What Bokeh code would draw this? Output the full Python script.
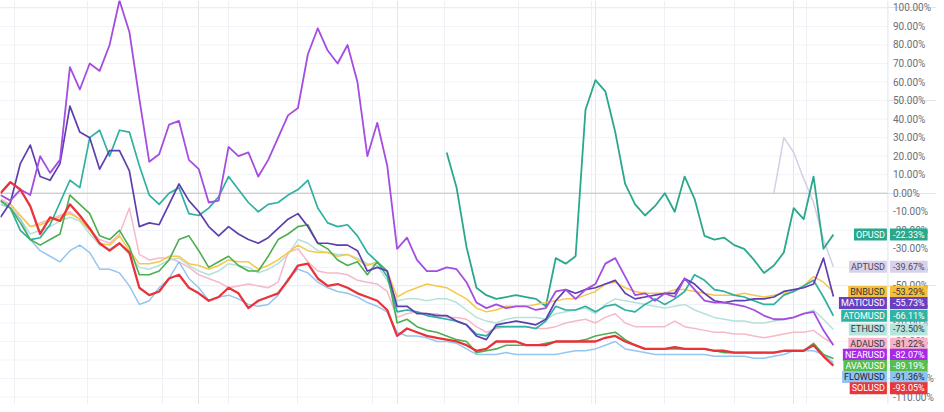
from bokeh.plotting import figure
from bokeh.models import Range1d, FixedTicker, Grid, Span, Label
from bokeh.core.properties import value
from bokeh.embed import file_html
from bokeh.resources import INLINE

# sample index (approx. every 4 days, Dec 2021 -> Nov 2022)
t = list(range(0, 850, 10))

# month boundaries (vertical grid lines)
month_lines = [14, 88, 163, 230, 300, 375, 448, 522, 596, 670, 740, 813]

pct_ticks = [100, 90, 80, 70, 60, 50, 40, 30, 20, 10, 0, -10, -20, -30, -40,
             -50, -60, -70, -80, -90, -100, -110]

# % change series
near = [-1, -4, 2, -1, 20, 11, 18, 68, 56, 70,
        66, 80, 104, 87, 51, 17, 21, 37, 39, 18,
        13, -5, -4, 25, 20, 22, 9, 18, 30, 42,
        46, 75, 89, 77, 70, 80, 60, 20, 38, 15,
        -30, -24, -36, -42, -42, -40, -41, -48, -59, -62,
        -60, -62, -61, -61, -63, -62, -53, -52, -57, -52,
        -49, -38, -35, -45, -55, -54, -58, -54, -56, -46,
        -52, -58, -59, -59, -60, -61, -63, -66, -68, -68,
        -67, -65, -64, -74, -82.07]

matic = [-13, -5, 16, 26, 9, 7, 16, 47, 33, 30,
         13, 23, 23, 12, -18, -16, -17, -6, 5, -4,
         -10, -18, -23, -18, -22, -25, -27, -24, -19, -14,
         -11, -18, -27, -27, -28, -28, -31, -42, -40, -42,
         -61, -61, -65, -65, -66, -66, -69, -71, -77, -79,
         -71, -70, -69, -70, -71, -68, -58, -52, -54, -52,
         -51, -49, -47, -54, -57, -56, -55, -54, -54, -46,
         -49, -54, -58, -59, -58, -58, -57, -57, -56, -53,
         -52, -51, -49, -35, -55.73]

atom = [-4, -8, -20, -25, -24, -17, -5, 7, 3, 30,
        34, 20, 34, 33, 15, -1, -6, 0, 3, -11,
        -12, -8, -2, 9, 2, -5, -10, -6, -5, -1,
        2, 7, -8, -16, -18, -17, -23, -32, -37, -45,
        -64, -63, -64, -66, -67, -68, -69, -71, -76, -77,
        -72, -72, -72, -72, -73, -69, -61, -63, -63, -61,
        -64, -61, -60, -63, -64, -60, -57, -60, -57, -53,
        -44, -47, -52, -53, -55, -56, -58, -60, -60, -55,
        -53, -50, -47, -56, -66.11]

bnb = [-5, -6, -12, -18, -17, -15, -13, -11, -14, -20,
       -27, -28, -23, -31, -38, -38, -37, -34, -34, -38,
       -39, -41, -39, -36, -37, -37, -41, -39, -36, -32,
       -28, -31, -32, -32, -34, -33, -36, -39, -37, -42,
       -56, -53, -51, -49, -50, -51, -54, -57, -62, -64,
       -63, -61, -61, -61, -60, -59, -58, -57, -57, -55,
       -53, -49, -48, -51, -53, -54, -54, -54, -52, -52,
       -53, -54, -55, -55, -55, -54, -55, -56, -55, -54,
       -53, -50, -45, -48, -53.29]

eth = [-4, -6, -14, -22, -20, -18, -15, -13, -15, -22,
       -28, -30, -27, -33, -40, -41, -39, -36, -35, -39,
       -42, -44, -42, -38, -39, -40, -43, -41, -38, -33,
       -25, -27, -31, -32, -33, -33, -35, -38, -39, -47,
       -58, -57, -57, -58, -57, -57, -59, -63, -67, -69,
       -70, -68, -67, -67, -67, -68, -65, -64, -63, -62,
       -65, -60, -57, -58, -59, -60, -61, -62, -61, -60,
       -63, -65, -67, -68, -69, -69, -70, -70, -69, -68,
       -67, -65, -63, -68, -73.5]

ada = [-3, -6, -12, -18, -16, -14, -12, -10, -14, -20,
       -25, -27, -22, -8, -33, -36, -35, -35, -37, -40,
       -44, -46, -48, -51, -50, -49, -50, -51, -48, -32,
       -30, -37, -42, -43, -43, -44, -47, -48, -49, -53,
       -67, -65, -64, -65, -65, -67, -67, -68, -72, -75,
       -73, -72, -72, -72, -73, -73, -72, -70, -69, -68,
       -70, -67, -65, -70, -72, -72, -72, -72, -69, -72,
       -73, -74, -75, -75, -76, -76, -77, -78, -77, -76,
       -75, -75, -74, -78, -81.22]

sol = [0, 6, 2, -7, -22, -13, -15, -6, -12, -19,
       -27, -31, -27, -32, -51, -55, -53, -46, -44, -51,
       -54, -58, -56, -51, -54, -62, -58, -56, -54, -47,
       -39, -38, -46, -50, -49, -51, -54, -56, -58, -63,
       -77, -73, -75, -77, -78, -79, -80, -82, -85, -84,
       -80, -80, -80, -82, -82, -82, -80, -80, -80, -80,
       -80, -78, -77, -80, -82, -84, -84, -84, -83, -84,
       -84, -84, -85, -85, -86, -86, -86, -86, -86, -85,
       -85, -85, -82, -88, -93.05]

avax = [-4, -8, -16, -25, -28, -25, -22, -1, -6, -11,
        -23, -25, -20, -29, -44, -44, -42, -36, -25, -23,
        -31, -40, -37, -34, -39, -42, -42, -34, -25, -22,
        -18, -17, -27, -30, -36, -39, -37, -44, -37, -42,
        -70, -68, -72, -74, -75, -77, -79, -80, -86, -85,
        -84, -82, -82, -82, -82, -81, -80, -80, -80, -79,
        -77, -76, -75, -79, -82, -84, -84, -84, -84, -84,
        -84, -84, -85, -86, -86, -86, -86, -86, -86, -85,
        -85, -85, -81, -87, -89.19]

flow = [-6, -8, -14, -25, -31, -34, -37, -31, -28, -32,
        -41, -41, -43, -50, -60, -58, -51, -46, -37, -46,
        -51, -58, -56, -55, -57, -60, -61, -60, -55, -46,
        -41, -43, -48, -51, -53, -54, -56, -59, -61, -64,
        -75, -77, -77, -78, -80, -80, -81, -84, -87, -87,
        -87, -86, -87, -87, -87, -87, -87, -86, -85, -85,
        -84, -82, -80, -84, -85, -86, -87, -87, -87, -87,
        -87, -87, -88, -88, -88, -88, -89, -89, -88, -87,
        -85, -85, -85, -87, -91.36]

# listed later: values from listing date onward
op = [22, 3, -29, -51, -55, -57, -56, -55, -56, -57,
      -61, -35, -38, -34, 45, 61, 55, 33, 5, -6,
      -12, -7, 0, -10, 9, -3, -23, -25, -24, -28,
      -30, -36, -43, -39, -32, -8, -14, 9, -30, -22.33]

apt = [0, 30, 22, 8, -5, -25, -39.67]

# (name, values, line color, tag color, tag text color, line width)
series = [
    ("APTUSD", apt, "#d6cde8", "#d9d1eb", "#4a4a52", 1.5),
    ("OPUSD", op, "#2aa88c", "#2aa88c", "#ffffff", 1.8),
    ("ETHUSD", eth, "#b5e1d9", "#b7e4dc", "#33363d", 1.5),
    ("ADAUSD", ada, "#f5b9cc", "#f7b3ca", "#33363d", 1.5),
    ("FLOWUSD", flow, "#95c6ef", "#8ec3f2", "#23262d", 1.5),
    ("BNBUSD", bnb, "#f5c84c", "#f3c03e", "#33363d", 1.5),
    ("ATOMUSD", atom, "#2fb0a0", "#2fb3a2", "#ffffff", 1.7),
    ("AVAXUSD", avax, "#4caf50", "#56bd4f", "#ffffff", 1.6),
    ("MATICUSD", matic, "#5e3fb0", "#6a3fc2", "#ffffff", 1.7),
    ("NEARUSD", near, "#a44de0", "#a82ae8", "#ffffff", 1.8),
    ("SOLUSD", sol, "#e8333a", "#e8363d", "#ffffff", 2.3),
]

AXIS_X = 895      # price-scale divider (x units)
X_END = 944
p = figure(width=936, height=404,
           x_range=Range1d(0, X_END), y_range=Range1d(-114, 104),
           x_axis_location=None, y_axis_location=None,
           toolbar_location=None, output_backend="svg",
           min_border=0, outline_line_color=None,
           background_fill_color="white", border_fill_color="white")

# grid
p.segment(x0=[0] * len(pct_ticks), x1=[AXIS_X] * len(pct_ticks),
          y0=pct_ticks, y1=pct_ticks, line_color="#f1f3f8", line_width=1)
p.add_layout(Grid(dimension=0, ticker=FixedTicker(ticks=month_lines),
                  grid_line_color="#eef0f5"))
p.segment(x0=[0], x1=[AXIS_X], y0=[0], y1=[0], line_color="#bfc2ca", line_width=1)
p.add_layout(Span(location=AXIS_X, dimension="height", line_color="#e0e3eb", line_width=1))

# price-scale labels
p.text(x=[AXIS_X] * len(pct_ticks), y=pct_ticks,
       text=["%.2f%%" % v for v in pct_ticks],
       x_offset=5, text_align="left", text_baseline="middle",
       text_font=value("Roboto"), text_font_size="10px", text_color="#6b6e78")

for name, vals, lc, tc, txc, lw in series:
    xs = t[len(t) - len(vals):]
    p.line(xs, vals, line_color=lc, line_width=lw, line_join="round")

# tag placement: each tag at its last value, pushed down when it would overlap
finals = {s[0]: s[1][-1] for s in series}
names = sorted(finals, key=lambda n: -finals[n])
gap = 6.0
pos = {}
prev = None
for n in names:
    y = finals[n] if prev is None else min(finals[n], prev - gap)
    pos[n] = y
    prev = y

style = {s[0]: s for s in series}
for n in names:
    _, vals, lc, tc, txc, lw = style[n]
    y = pos[n]
    p.add_layout(Label(x=AXIS_X, y=y, x_offset=-1, text=n,
                       text_align="right", text_baseline="middle",
                       text_font="Roboto", text_font_size="9px", text_color=txc,
                       background_fill_color=tc,
                       padding=dict(left=2, right=2, top=1, bottom=1)))
    p.add_layout(Label(x=AXIS_X, y=y, x_offset=2, text="%.2f%%" % finals[n],
                       text_align="left", text_baseline="middle",
                       text_font="Roboto", text_font_size="9px", text_color=txc,
                       background_fill_color=tc,
                       padding=dict(left=3, right=3, top=1, bottom=1)))

open("out.html", "w").write(file_html(p, INLINE))
